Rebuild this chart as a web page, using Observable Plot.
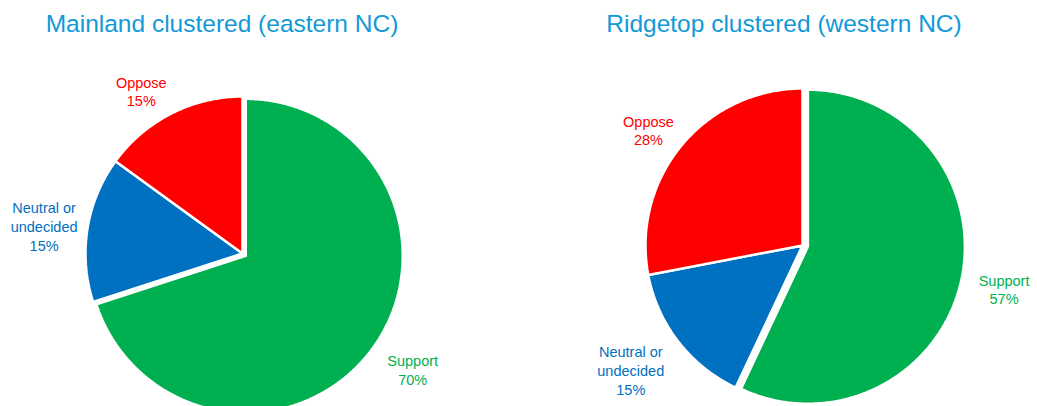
<!DOCTYPE html>
<html><head><meta charset="utf-8">
<script src="https://cdn.jsdelivr.net/npm/d3@7"></script>
<script src="https://cdn.jsdelivr.net/npm/@observablehq/plot@0.6"></script>
<style>
body{margin:0;background:#fff;font-family:"Liberation Sans",Arial,sans-serif;}
#wrap{position:relative;width:1037px;height:406px;overflow:hidden;background:#fff;}
.title{position:absolute;top:12px;font-size:24.5px;line-height:24px;color:#1199D8;text-align:center;white-space:nowrap;}
.panel{position:absolute;top:0;}
</style></head><body><div id="wrap"></div>
<script>
// ---- data ----
const categories = ["Support", "Neutral or undecided", "Oppose"];
const labelNames = ["Support", "Neutral or\nundecided", "Oppose"];
const colors = ["#00B050", "#0070C0", "#FF0000"];
const chartTitles = ["Mainland clustered (eastern NC)", "Ridgetop clustered (western NC)"];
const mainlandValues = [70, 15, 15];
const ridgetopValues = [57, 15, 28];
const explodedCategory = "Support";

// ---- layout ----
const H = 406;
const FONT = '"Liberation Sans", Arial, sans-serif';
const LABEL_SIZE = 14.5;
const panels = [
  {values: mainlandValues, title: chartTitles[0], left: 0, width: 565, cx: 242, cy: 253, r: 157, explode: 4, titleLeft: 0, titleWidth: 444},
  {values: ridgetopValues, title: chartTitles[1], left: 565, width: 472, cx: 237, cy: 245, r: 157, explode: 5.5, titleLeft: 565, titleWidth: 438}
];

const ctx = document.createElement("canvas").getContext("2d");
ctx.font = `${LABEL_SIZE}px ${FONT}`;

const wrap = document.getElementById("wrap");

for (const p of panels) {
  const arcs = d3.pie().sort(null).startAngle(0).endAngle(2 * Math.PI)(p.values);
  const points = [];
  const labels = [];
  arcs.forEach((a, i) => {
    const cat = categories[i];
    const mid = (a.startAngle + a.endAngle) / 2;
    const dir = [Math.sin(mid), -Math.cos(mid)];
    const off = cat === explodedCategory ? p.explode : 0;
    const ox = dir[0] * off, oy = dir[1] * off;
    points.push({category: cat, x: ox, y: oy});
    const n = Math.max(2, Math.ceil((a.endAngle - a.startAngle) / (Math.PI / 360)));
    for (let k = 0; k <= n; k++) {
      const t = a.startAngle + (a.endAngle - a.startAngle) * k / n;
      points.push({category: cat, x: ox + p.r * Math.sin(t), y: oy - p.r * Math.cos(t)});
    }
    points.push({category: cat, x: ox, y: oy});
    // label: outside end, box pushed away from the pie
    const text = `${labelNames[i]}\n${p.values[i]}%`;
    const lines = text.split("\n");
    const w = Math.max(...lines.map(l => ctx.measureText(l).width));
    const h = lines.length * LABEL_SIZE * 1.3;
    const lower = dir[1] > 0;
    const R = p.r + (lower ? 18 : 10);
    const px = ox + R * dir[0], py = oy + R * dir[1];
    labels.push({category: cat, text, x: px + Math.sign(dir[0]) * w / 2, y: py + dir[1] * h / 2 + (lower ? 0 : 3)});
  });

  const chart = Plot.plot({
    width: p.width, height: H, margin: 0,
    x: {domain: [-p.cx, p.width - p.cx], range: [0, p.width], axis: null},
    y: {domain: [-p.cy, H - p.cy], range: [0, H], axis: null},
    color: {domain: categories, range: colors},
    style: {fontFamily: FONT, background: "transparent", overflow: "visible"},
    marks: [
      Plot.line(points, {x: "x", y: "y", z: "category", fill: "category", stroke: "white", strokeWidth: 2.5, curve: "linear", strokeLinejoin: "miter"}),
      Plot.text(labels, {x: "x", y: "y", text: "text", fill: "category", fontSize: LABEL_SIZE, lineHeight: 1.3})
    ]
  });
  const div = document.createElement("div");
  div.className = "panel";
  div.style.left = p.left + "px";
  div.appendChild(chart);
  wrap.appendChild(div);

  const t = document.createElement("div");
  t.className = "title";
  t.style.left = p.titleLeft + "px";
  t.style.width = p.titleWidth + "px";
  t.textContent = p.title;
  wrap.appendChild(t);
}
</script></body></html>
